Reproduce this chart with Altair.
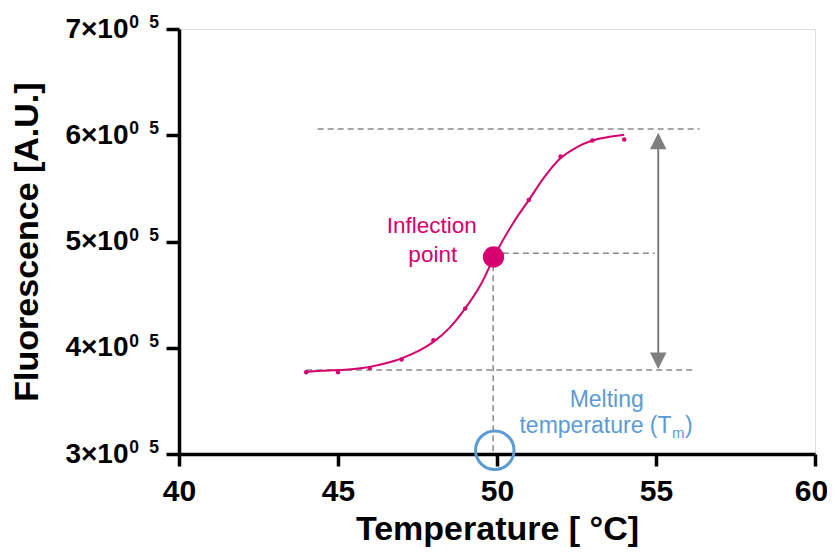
import altair as alt
import pandas as pd

# ---------------- data ----------------
temp = [44, 45, 46, 47, 48, 49, 50, 51, 52, 53, 54]
fluor = [377000, 377000, 381000, 389000, 407000, 437000, 488000, 539000, 580000, 595000, 596000]

fit_temp = [44, 44.5, 45, 45.5, 46, 46.5, 47, 47.5, 48, 48.5, 49, 49.5,
            50, 50.5, 51, 51.5, 52, 52.5, 53, 53.5, 54]
fit_fluor = [377500, 378300, 379000, 380000, 382000, 385400, 390000, 396500,
             405500, 418500, 437000, 460000, 491000, 517000, 539000, 561000,
             578500, 588500, 595000, 598300, 600500]

x_ticks = [40, 45, 50, 55, 60]
y_ticks = [300000, 400000, 500000, 600000, 700000]
y_tick_labels = ["3×10", "4×10", "5×10", "6×10", "7×10"]
y_tick_sup_a = ["0", "0", "0", "0", "0"]
y_tick_sup_b = ["5", "5", "5", "5", "5"]

inflection_t = [49.89]
inflection_f = [485500]

# annotation guides (data units)
guide_x = [44.36, 49.87, 44.0, 49.88]
guide_x2 = [56.37, 54.96, 56.15, 49.88]
guide_y = [606000, 489000, 379000, 487000]
guide_y2 = [606000, 489000, 379000, 300000]

arrow_t = 55.07
arrow_top = 594500
arrow_bottom = 387800

tm_circle_t = [49.93]
tm_circle_f = [303500]

MAGENTA = "#d6006f"
BLUE = "#5b9bd5"
GREY = "#8a8a8a"
FONT = "Liberation Sans"

# ---------------- encodings ----------------
label_expr = ""
for v, lab in zip(y_ticks, y_tick_labels):
    label_expr += f"datum.value == {v} ? '{lab}' : "
label_expr += "''"

x_scale = alt.Scale(domain=[40, 60], nice=False, zero=False)
y_scale = alt.Scale(domain=[300000, 700000], nice=False, zero=False)

x_axis = alt.Axis(values=x_ticks, title="Temperature [ °C]", grid=False,
                  domainColor="black", domainWidth=3.5, tickColor="black",
                  tickWidth=3.5, tickSize=12, labelFont=FONT, labelFontSize=30,
                  labelFontWeight="bold", labelColor="black", labelPadding=10,
                  labelOffset={"condition": {"test": "datum.value == 60", "value": -4}, "value": 0},
                  titleFont=FONT, titleFontSize=34, titleFontWeight="bold",
                  titleColor="black", titlePadding=6, labelFlush=False)
y_axis = alt.Axis(values=y_ticks, labelExpr=label_expr, title="Fluorescence [A.U.]",
                  grid=False, domainColor="black", domainWidth=3.5, tickColor="black",
                  tickWidth=3.5, tickSize=13, labelFont=FONT, labelFontSize=28,
                  labelFontWeight="bold", labelColor="black", labelPadding=38,
                  titleFont=FONT, titleFontSize=34, titleFontWeight="bold",
                  titleColor="black", titlePadding=20, labelFlush=False)


def X(field="x"):
    return alt.X(f"{field}:Q", scale=x_scale, axis=x_axis)


def Y(field="y"):
    return alt.Y(f"{field}:Q", scale=y_scale, axis=y_axis)


# ---------------- layers ----------------
guides_df = pd.DataFrame({"x": guide_x, "x2": guide_x2, "y": guide_y, "y2": guide_y2})
guides = alt.Chart(guides_df).mark_rule(color=GREY, strokeWidth=1.5, strokeDash=[6, 4]).encode(
    x=X(), x2="x2:Q", y=Y(), y2="y2:Q")

arrow_df = pd.DataFrame({"x": [arrow_t], "y": [arrow_top], "y2": [arrow_bottom]})
arrow = alt.Chart(arrow_df).mark_rule(color="#7f7f7f", strokeWidth=2).encode(
    x=X(), y=Y(), y2="y2:Q")

head_up = alt.Chart(pd.DataFrame({"x": [arrow_t], "y": [arrow_top]})).mark_point(
    shape="M0,-1L1,1L-1,1Z", filled=True, color="#7f7f7f", opacity=1, size=272,
    strokeWidth=0).encode(x=X(), y=Y())
head_down = alt.Chart(pd.DataFrame({"x": [arrow_t], "y": [arrow_bottom]})).mark_point(
    shape="M0,1L1,-1L-1,-1Z", filled=True, color="#7f7f7f", opacity=1, size=272,
    strokeWidth=0).encode(x=X(), y=Y())

fit_df = pd.DataFrame({"x": fit_temp, "y": fit_fluor})
fit = alt.Chart(fit_df).mark_line(color=MAGENTA, strokeWidth=2, interpolate="monotone").encode(
    x=X(), y=Y())

pts_df = pd.DataFrame({"x": temp, "y": fluor})
pts = alt.Chart(pts_df).mark_circle(color=MAGENTA, size=20, opacity=1).encode(x=X(), y=Y())

infl_df = pd.DataFrame({"x": inflection_t, "y": inflection_f})
infl = alt.Chart(infl_df).mark_circle(color=MAGENTA, size=452, opacity=1).encode(x=X(), y=Y())

tm_df = pd.DataFrame({"x": tm_circle_t, "y": tm_circle_f})
tm_circle = alt.Chart(tm_df).mark_point(shape="circle", filled=False, color=BLUE,
                                        size=1480, strokeWidth=3, opacity=1).encode(x=X(), y=Y())

# superscript part of the y tick labels, placed at the tick values
sup_df = pd.DataFrame({"x": [40] * len(y_ticks), "y": y_ticks,
                       "a": y_tick_sup_a, "b": y_tick_sup_b})
sup_a = alt.Chart(sup_df).mark_text(font=FONT, fontSize=17.5, fontWeight="bold", color="black",
                                    align="center", baseline="alphabetic", dx=-45, dy=-1).encode(
    x=X(), y=Y(), text="a:N")
sup_b = alt.Chart(sup_df).mark_text(font=FONT, fontSize=17.5, fontWeight="bold", color="black",
                                    align="center", baseline="alphabetic", dx=-25, dy=-1).encode(
    x=X(), y=Y(), text="b:N")


def label(text, x, y, color, size=22.5, align="center", dx=0, dy=0):
    return alt.Chart(pd.DataFrame({"x": [x], "y": [y], "t": [text]})).mark_text(
        font=FONT, fontSize=size, color=color, align=align, baseline="alphabetic",
        dx=dx, dy=dy).encode(x=X(), y=Y(), text="t:N")


texts = [
    label("Inflection", 47.95, 507800, MAGENTA),
    label("point", 47.98, 481100, MAGENTA),
    label("Melting", 53.45, 344500, BLUE, size=23),
    label("temperature (T", 55.49, 319800, BLUE, size=23, align="right"),
    label("m", 55.49, 319800, BLUE, size=15, align="left", dx=0.5, dy=5),
    label(")", 55.49, 319800, BLUE, size=23, align="left", dx=13.5),
]

chart = alt.layer(guides, arrow, head_up, head_down, fit, pts, infl, tm_circle,
                  sup_a, sup_b, *texts).properties(
    width=636, height=425,
    autosize=alt.AutoSizeParams(type="none"),
    padding={"left": 171, "top": 21, "right": 12, "bottom": 93},
).configure_view(stroke=None).configure(background="white")

chart.save("out.html", embed_options={"renderer": "svg", "actions": False})
